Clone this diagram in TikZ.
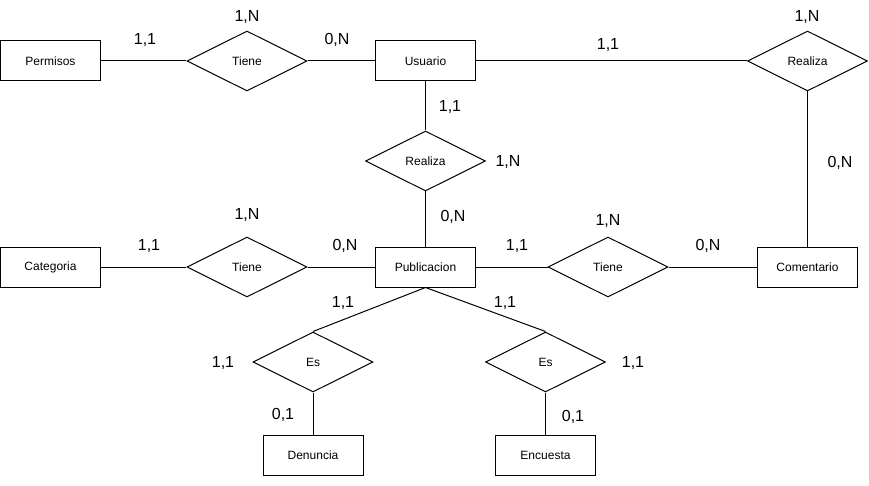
\documentclass[tikz,border=0pt]{standalone}
\usepackage{fontspec}
\setmainfont{Liberation Sans}
\usetikzlibrary{shapes.geometric}
\begin{document}
\begin{tikzpicture}[x=1pt,y=-1pt,
 ent/.style={draw,line width=1pt,minimum width=100pt,minimum height=40pt,inner sep=0pt,font=\fontsize{12}{14}\selectfont},
 rel/.style={draw,diamond,line width=1pt,minimum width=120pt,minimum height=60pt,inner sep=0pt,font=\fontsize{12}{14}\selectfont},
 card/.style={font=\fontsize{16}{19}\selectfont,inner sep=0pt},
 conn/.style={line width=1pt}]
\useasboundingbox (0,0) rectangle (869,486);
% entities
\node[ent] (perm) at (50.5,61) {Permisos};
\node[ent] (usu) at (425.5,61) {Usuario};
\node[ent] (cat) at (50.5,267) {Categoria};
\node[ent] (pub) at (425.5,267) {Publicacion};
\node[ent] (com) at (807.5,267) {Comentario};
\node[ent] (den) at (313,455) {Denuncia};
\node[ent] (enc) at (545.5,455) {Encuesta};
% relationships
\node[rel] (t1) at (247,61) {Tiene};
\node[rel] (r1) at (807.5,61) {Realiza};
\node[rel] (r2) at (425.5,161) {Realiza};
\node[rel] (t2) at (247,267) {Tiene};
\node[rel] (t3) at (608,267) {Tiene};
\node[rel] (es1) at (313,362) {Es};
\node[rel] (es2) at (545.5,362) {Es};
% connectors
\draw[conn] (perm) -- (t1);
\draw[conn] (t1) -- (usu);
\draw[conn] (usu) -- (r1);
\draw[conn] (r1.south) -- (com.north);
\draw[conn] (usu.south) -- (r2.north);
\draw[conn] (r2.south) -- (pub.north);
\draw[conn] (cat) -- (t2);
\draw[conn] (t2) -- (pub);
\draw[conn] (pub) -- (t3);
\draw[conn] (t3) -- (com);
\draw[conn] (pub.south) -- (es1.north);
\draw[conn] (pub.south) -- (es2.north);
\draw[conn] (es1.south) -- (den.north);
\draw[conn] (es2.south) -- (enc.north);
% cardinalities
\node[card] (c1) at (247,17) {1,N};
\node[card] (c2) at (145,40) {1,1};
\node[card] (c3) at (337,40) {0,N};
\node[card] (c4) at (608,45) {1,1};
\node[card] (c5) at (807,17) {1,N};
\node[card] (c6) at (450,107) {1,1};
\node[card] (c7) at (508,162) {1,N};
\node[card] (c8) at (453,217) {0,N};
\node[card] (c9) at (840,163) {0,N};
\node[card] (c10) at (247,215) {1,N};
\node[card] (c11) at (149,246) {1,1};
\node[card] (c12) at (345,246) {0,N};
\node[card] (c13) at (517,246) {1,1};
\node[card] (c14) at (608,221) {1,N};
\node[card] (c15) at (708,246) {0,N};
\node[card] (c16) at (343,303) {1,1};
\node[card] (c17) at (505,303) {1,1};
\node[card] (c18) at (223,363) {1,1};
\node[card] (c19) at (633,363) {1,1};
\node[card] (c20) at (283,415) {0,1};
\node[card] (c21) at (573,417) {0,1};
\end{tikzpicture}
\end{document}
